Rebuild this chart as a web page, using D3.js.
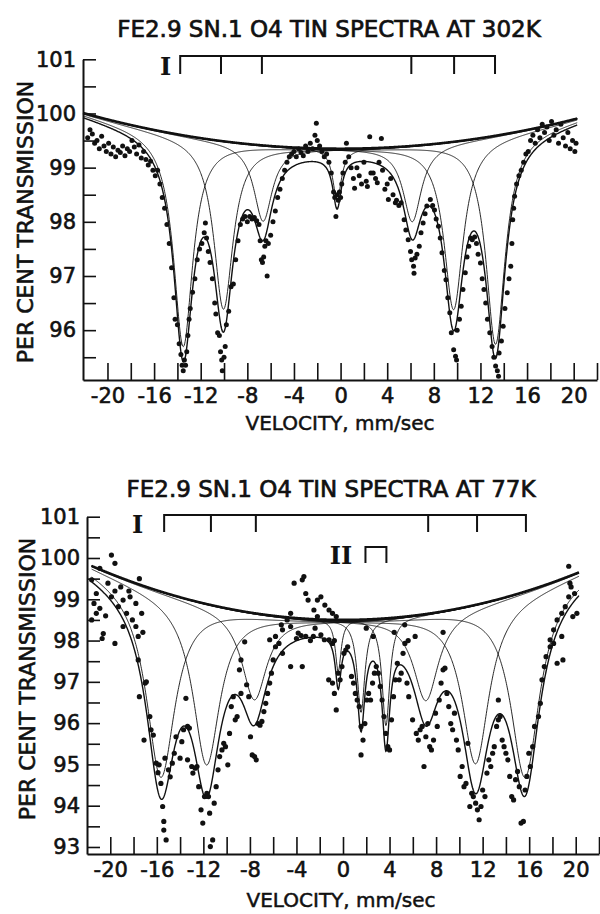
<!DOCTYPE html>
<html><head><meta charset="utf-8">
<script src="https://cdn.jsdelivr.net/npm/d3@7"></script>
<style>body{margin:0;background:#fff}svg{display:block}</style>
</head><body>
<svg id="c" width="600" height="914"></svg>
<script>
// ---------- DATA ----------
const topTitle = "FE2.9 SN.1 O4 TIN SPECTRA AT 302K";
const bottomTitle = "FE2.9 SN.1 O4 TIN SPECTRA AT 77K";
const xAxisTitle = "VELOCITY, mm/sec";
const yAxisTitle = "PER CENT TRANSMISSION";
const xTickValues = [-20,-16,-12,-8,-4,0,4,8,12,16,20];
const xTickLabels = ["-20","-16","-12","-8","-4","0","4","8","12","16","20"];
const topYTickValues = [101,100,99,98,97,96];
const topYTickLabels = ["101","100","99","98","97","96"];
const bottomYTickValues = [101,100,99,98,97,96,95,94,93];
const bottomYTickLabels = ["101","100","99","98","97","96","95","94","93"];

// site marker (stick diagram) positions, mm/sec
const topSiteI = [-13.76,-10.26,-6.75,6.07,9.74,13.25];
const bottomSiteI = [-15.37,-11.35,-7.49,7.32,11.52,15.72];
const bottomSiteII = [1.93,3.73];
const siteLabels = ["I","II"];

// fitted curve components (302 K)
const topBaseline = [99.35, 0.00135];        // centre value, curvature
const topLinePos   = [-13.5,-10.05,-6.65,-0.3,6.15,9.7,13.3];
const topLineDepth = [3.9,3.1,1.4,0.95,1.4,3.1,3.85];
const topLineWidth = [1.0,1.0,0.95,0.45,0.95,1.0,1.0];
const topFitRange = [-22.1,20.3];
// fitted curve components (77 K)
const bottomBaseline = [98.5, 0.0028];
const bottomLinePos   = [-15.66,-11.73,-7.62,-0.41,1.55,3.69,7.13,11.4,15.65];
const bottomLineDepth = [4.5,3.9,2.1,1.25,2.25,2.6,2.1,3.85,4.5];
const bottomLineWidth = [1.5,1.4,1.3,0.3,0.4,0.4,1.3,1.4,1.5];
const bottomFitRange = [-21.6,20.3];

// measured points [velocity, per cent transmission]
const topPoints = [[-21.7,99.55],[-21.5,99.7],[-21.3,99.62],[-21.1,99.45],[-20.9,99.5],[-20.7,99.35],[-20.5,99.58],[-20.3,99.4],[-20.1,99.3],[-19.9,99.45],[-19.7,99.25],[-19.5,99.38],[-19.3,99.2],[-19.1,99.32],[-18.9,99.28],[-18.7,99.4],[-18.5,99.22],[-18.3,99.35],[-18.1,99.3],[-17.9,99.5],[-17.7,99.38],[-17.5,99.25],[-17.3,99.42],[-17.1,99.18],[-16.9,99.3],[-16.7,99.15],[-16.5,99.05],[-16.3,99.12],[-16.1,98.95],[-15.9,98.85],[-15.7,98.95],[-15.5,98.7],[-15.3,98.45],[-15.1,98.25],[-14.9,97.95],[-14.7,97.6],[-14.5,97.15],[-14.3,96.6],[-14.2,96.2],[-14.0,96.1],[-13.85,95.75],[-13.7,95.55],[-13.6,95.35],[-13.5,95.25],[-13.4,95.45],[-13.3,95.35],[-13.2,95.6],[-13.1,95.9],[-13.0,96.2],[-12.9,96.4],[-12.7,96.7],[-12.5,96.95],[-12.3,97.3],[-12.1,97.5],[-11.9,97.6],[-11.7,97.8],[-11.6,97.98],[-11.5,97.7],[-11.35,97.45],[-11.2,97.25],[-11.0,96.95],[-10.8,96.5],[-10.7,96.3],[-10.55,95.95],[-10.4,95.9],[-10.3,95.6],[-10.2,95.45],[-10.15,95.25],[-10.0,95.5],[-9.9,95.7],[-9.8,96.1],[-9.6,96.35],[-9.4,96.8],[-9.2,96.85],[-9.0,97.3],[-8.8,97.65],[-8.6,97.95],[-8.4,98.05],[-8.2,98.1],[-8.0,98.0],[-7.8,98.1],[-7.6,98.05],[-7.4,98.08],[-7.2,98.02],[-7.0,97.95],[-6.9,97.65],[-6.8,97.3],[-6.7,97.25],[-6.6,97.35],[-6.5,97.55],[-6.4,97.65],[-6.3,97.0],[-6.2,97.6],[-6.0,97.75],[-5.8,98.0],[-5.6,98.2],[-5.4,98.45],[-5.2,98.6],[-5.0,98.8],[-4.8,98.95],[-4.6,99.1],[-4.4,99.2],[-4.2,99.25],[-4.0,99.3],[-3.8,99.2],[-3.6,99.35],[-3.4,99.28],[-3.2,99.22],[-3.0,99.4],[-2.8,99.3],[-2.6,99.45],[-2.4,99.35],[-2.2,99.6],[-2.08,99.82],[-2.0,99.5],[-1.8,99.4],[-1.6,99.3],[-1.4,99.2],[-1.2,99.25],[-1.0,99.1],[-0.8,98.9],[-0.6,98.55],[-0.5,98.45],[-0.4,98.1],[-0.3,98.5],[-0.2,98.4],[-0.1,98.55],[0.0,98.45],[0.1,98.7],[0.2,98.9],[0.4,99.1],[0.5,99.45],[0.7,99.2],[0.9,99.0],[1.1,98.8],[1.2,98.62],[1.4,99.0],[1.6,98.85],[1.8,98.7],[2.0,99.1],[2.2,98.75],[2.3,98.65],[2.5,99.57],[2.6,98.9],[2.8,98.9],[3.0,98.8],[3.15,98.72],[3.3,99.1],[3.5,99.54],[3.6,98.95],[3.8,98.6],[4.0,98.7],[4.1,98.41],[4.3,98.8],[4.5,98.5],[4.7,98.35],[4.8,98.4],[5.0,98.3],[5.2,98.35],[5.45,98.04],[5.6,97.85],[5.8,97.67],[6.0,97.45],[6.1,97.3],[6.26,97.18],[6.3,97.05],[6.4,97.33],[6.55,97.4],[6.75,97.55],[6.9,97.8],[7.08,97.98],[7.25,98.15],[7.4,98.29],[7.7,98.41],[7.9,98.3],[8.06,98.22],[8.2,98.05],[8.4,97.92],[8.55,97.7],[8.7,97.43],[8.9,97.1],[9.04,96.93],[9.2,96.6],[9.37,96.32],[9.5,95.95],[9.7,95.64],[9.86,95.52],[9.95,95.45],[10.0,96.0],[10.2,96.2],[10.35,96.44],[10.5,96.75],[10.7,97.06],[10.85,97.35],[11.0,97.55],[11.15,97.7],[11.3,97.67],[11.5,97.72],[11.66,97.6],[11.8,97.4],[12.0,97.24],[12.15,96.95],[12.3,96.75],[12.45,96.5],[12.6,96.2],[12.8,95.95],[13.0,95.7],[13.15,95.5],[13.3,95.34],[13.45,95.25],[13.55,95.15],[13.6,95.58],[13.8,95.8],[13.95,96.07],[14.1,96.4],[14.3,96.69],[14.45,96.95],[14.6,97.18],[14.7,97.6],[14.77,98.04],[14.85,98.25],[14.93,98.47],[15.1,98.7],[15.3,98.85],[15.5,98.95],[15.7,99.1],[15.9,99.25],[16.1,99.3],[16.3,99.5],[16.5,99.6],[16.7,99.45],[16.9,99.7],[17.1,99.55],[17.3,99.8],[17.5,99.65],[17.7,99.75],[17.9,99.5],[18.1,99.85],[18.3,99.6],[18.5,99.7],[18.7,99.45],[18.9,99.8],[19.1,99.55],[19.3,99.4],[19.5,99.65],[19.7,99.35],[19.9,99.5],[20.1,99.3],[20.2,99.45]];

const bottomPoints = [[-21.6,99.47],[-21.2,99.14],[-21.2,98.66],[-20.9,99.75],[-20.9,98.78],[-21.6,98.5],[-20.6,98.17],[-20.7,98.05],[-20.2,99.39],[-19.9,100.07],[-19.9,99.06],[-19.6,99.87],[-19.6,99.2],[-19.6,97.93],[-19.3,98.82],[-18.9,98.98],[-18.9,98.34],[-18.6,98.66],[-18.4,99.2],[-18.3,99.06],[-17.8,98.34],[-17.8,98.9],[-17.6,98.1],[-17.5,99.5],[-17.3,98.66],[-21.4,98.9],[-20.4,98.6],[-19.1,99.3],[-18.1,98.5],[-17.2,98.2],
[-17.6,97.53],[-17.5,96.64],[-17.0,96.97],[-16.9,97.0],[-17.1,95.59],[-16.6,96.16],[-16.5,95.84],[-16.3,95.71],[-16.05,95.03],[-15.8,94.99],[-15.9,94.8],[-15.65,94.54],[-15.5,93.98],[-15.4,93.62],[-15.4,93.41],[-15.2,93.17],[-15.3,95.15],[-15.0,94.87],[-14.85,94.7],[-14.67,95.03],[-14.5,95.27],[-14.35,95.67],[-14.0,95.15],[-13.85,95.55],[-13.7,95.84],[-13.5,96.6],[-13.36,95.92],[-13.2,95.88],[-13.36,95.11],[-13.0,94.95],[-12.9,94.79],[-12.7,94.91],[-12.55,94.95],[-12.4,94.46],[-12.2,93.9],[-12.05,93.58],[-11.9,94.22],[-11.7,94.3],[-11.56,94.22],[-11.46,93.82],[-11.4,93.01],[-11.2,93.17],[-11.07,94.06],[-10.9,94.46],[-10.74,94.87],[-10.6,95.19],[-10.4,95.35],[-10.25,95.51],[-10.1,95.43],[-9.9,94.99],[-9.75,95.75],[-9.6,96.4],[-9.43,96.64],[-9.26,96.08],[-9.1,96.16],[-8.9,97.29],[-8.77,97.53],[-8.77,96.72],[-8.45,97.97],[-8.28,96.93],[-8.1,96.64],[-7.95,95.67],[-7.8,95.23],[-7.6,95.19],[-7.46,95.11],[-7.3,95.99],[-7.13,95.95],[-6.97,96.04],[-6.8,96.28],[-6.64,96.48],[-6.48,96.72],[-6.3,96.97],[-6.15,97.21],[-6.0,97.53],[-5.8,97.85],[-5.5,97.93],[-5.2,97.69],[-4.5,97.37],[-3.5,97.37],
[-6.3,98.02],[-5.8,98.1],[-5.2,98.26],[-4.5,98.34],[-4.2,99.39],[-3.5,99.47],[-3.36,99.55],[-3.2,99.14],[-3.0,98.98],[-2.55,98.1],[-2.2,98.98],[-1.9,99.06],[-2.2,98.58],[-2.5,98.74],[-1.56,98.86],[-1.2,98.74],[-0.9,98.66],[-0.58,98.58],[-4.5,98.66],[-4.8,98.5],[-5.3,98.38],[-3.85,98.18],[-3.2,98.1],[-1.9,98.14],[-1.2,98.02],[-0.9,97.93],[-4.0,98.05],[-2.8,98.0],[-1.6,98.02],[-3.6,98.12],[-2.4,98.3],
[-0.74,98.0],[-1.23,97.05],[-0.9,96.97],[-0.74,96.72],[-0.58,96.32],[-0.41,97.21],[-0.25,97.05],[-0.09,97.37],[0.08,97.69],[0.24,97.77],[0.4,97.85],[0.73,97.13],[0.9,96.97],[1.06,96.72],[1.22,96.56],[1.39,96.4],[1.55,95.92],[1.72,95.59],[1.55,95.23],[1.88,95.99],[2.05,96.56],[2.2,96.72],[2.37,96.56],[2.54,96.97],[2.7,97.21],[2.86,97.37],[3.03,97.21],[3.2,96.89],[3.36,96.56],[3.52,96.16],[3.68,95.75],[3.85,95.43],[4.0,95.35],[4.17,96.08],[4.34,96.64],[4.5,97.05],[4.67,97.45],[4.83,97.05],[5.0,97.21],[5.16,97.69],[5.32,97.93],[5.5,96.97],[5.65,96.64],[5.98,96.08],[6.3,95.75],[6.47,95.59],[6.63,95.84],[6.8,95.92],[6.96,94.95],[7.12,95.67],[7.29,95.99],[7.45,95.43],[7.6,95.35],[7.78,95.59],[7.95,96.24],[8.1,95.92],[8.27,96.56],[8.43,96.97],[8.6,97.29],[8.76,97.33],[8.93,96.72],[9.09,96.4],[9.26,95.99],[9.42,95.84],[9.58,96.24],[9.75,95.59],[9.9,95.35],[10.07,94.71],[10.24,94.95],[10.4,94.46],[10.57,94.54],[10.73,95.51],[10.9,93.98],[11.06,94.3],[11.2,94.22],[11.4,94.06],[11.55,93.9],[11.7,93.66],[11.86,93.98],[12.0,94.38],[12.2,94.22],[12.37,94.79],[12.53,95.11],[12.7,94.95],[12.86,95.27],[13.0,95.43],[13.2,95.92],[13.35,96.08],[13.35,96.56],[13.5,96.16],[13.68,95.59],[13.84,95.43],[14.0,95.27],[14.17,95.11],[14.33,94.71],[14.5,94.22],[14.66,94.14],[14.83,94.63],[15.0,94.83],[15.15,94.46],[15.3,93.58],[15.5,93.62],[15.65,94.38],[15.8,94.71],[15.97,95.27],[16.1,94.95],[16.3,95.43],[16.46,95.92],[16.8,96.16],[16.96,96.48],[17.1,97.05],[17.3,97.37],[17.45,97.61],[17.8,97.85],[18.1,97.93],[18.4,97.45],[18.9,97.53],
[2.0,98.3],[2.6,98.1],[4.4,98.2],[5.3,98.38],[5.6,98.0],[8.6,98.2],[6.2,98.1],
[17.8,98.02],[18.1,98.26],[18.4,98.5],[18.8,98.66],[19.1,98.82],[19.4,99.06],[19.6,99.3],[19.9,99.14],[20.1,98.66],[19.75,98.58],[18.8,98.1],[19.4,99.8],[19.5,99.39]];

// ---------- DRAWING ----------
const FONT = "DejaVu Sans, Liberation Sans, Arial, sans-serif";
const svg = d3.select("#c");

function boldish(sel, w) {
  return sel.attr("fill", "#111").attr("stroke", "#111").attr("stroke-width", w).attr("paint-order", "stroke");
}

function drawPanel(d, L) {
  const x = d3.scaleLinear().domain(d.xDomain).range(L.xRange);
  const y = d3.scaleLinear().domain(d.yDomain).range(L.yRange);
  const g = svg.append("g");

  // title
  boldish(g.append("text").attr("x", L.titleX).attr("y", L.titleY)
    .attr("text-anchor", "middle").attr("font-family", FONT).attr("font-size", 23)
    .text(d.title), 0.7);

  // axes
  const yMinor = d3.range(d.yDomain[0] <= 93 ? 93 : 95.5, 101.001, 0.5);
  const yAx = d3.axisLeft(y).tickValues(yMinor).tickSizeInner(-13).tickSizeOuter(0).tickPadding(7)
    .tickFormat(v => { const i = d.yTickValues.indexOf(v); return i >= 0 ? d.yTickLabels[i] : ""; });
  const gy = g.append("g").attr("transform", `translate(${L.xRange[0]},0)`).call(yAx);
  const xMinor = d3.range(-20, 22.001, 2);
  const xAx = d3.axisBottom(x).tickValues(xMinor).tickSizeInner(-17).tickSizeOuter(0).tickPadding(8)
    .tickFormat(v => { const i = xTickValues.indexOf(v); return i >= 0 ? xTickLabels[i] : ""; });
  const gx = g.append("g").attr("transform", `translate(0,${L.yRange[0]})`).call(xAx);
  [gx, gy].forEach(a => {
    a.attr("font-family", FONT).attr("font-size", 21);
    a.select(".domain").attr("stroke", "#111").attr("stroke-width", 2);
    a.selectAll(".tick line").attr("stroke", "#111").attr("stroke-width", 1.6);
    boldish(a.selectAll(".tick text"), 0.6);
  });

  // axis titles
  boldish(g.append("text").attr("x", L.xTitleX).attr("y", L.xTitleY).attr("text-anchor", "middle")
    .attr("font-family", FONT).attr("font-size", 20).text(xAxisTitle), 0.5);
  boldish(g.append("text").attr("transform", `translate(${L.yTitleX},${L.yTitleY}) rotate(-90)`)
    .attr("text-anchor", "middle").attr("font-family", FONT).attr("font-size", 22).text(yAxisTitle), 0.6);

  // site markers
  d.sites.forEach((s, k) => {
    const pos = s.pos;
    const yt = L.siteY[k][0], yb = L.siteY[k][1];
    const p = d3.path();
    p.moveTo(x(pos[0]), yb); p.lineTo(x(pos[0]), yt); p.lineTo(x(pos[pos.length-1]), yt); p.lineTo(x(pos[pos.length-1]), yb);
    for (let i = 1; i < pos.length - 1; i++) { p.moveTo(x(pos[i]), yt); p.lineTo(x(pos[i]), yb); }
    g.append("path").attr("d", p.toString()).attr("fill", "none").attr("stroke", "#111").attr("stroke-width", 2);
    g.append("text").attr("x", L.siteLabelX[k]).attr("y", yb + 1).attr("text-anchor", "middle")
      .attr("font-family", "DejaVu Serif, Liberation Serif, serif").attr("font-weight", "bold").attr("font-size", 24)
      .attr("fill", "#111").text(s.label);
  });

  // fitted curves
  const base = v => d.baseline[0] + d.baseline[1] * v * v;
  const lor = (i, v) => d.depth[i] / (1 + Math.pow((v - d.pos[i]) / d.width[i], 2));
  const vs = d3.range(d.fitRange[0], d.fitRange[1] + 1e-9, 0.04);
  const line = d3.line().x(p => x(p[0])).y(p => y(p[1]));
  const cg = g.append("g").attr("fill", "none").attr("stroke", "#111");
  d.pos.forEach((_, i) => {
    cg.append("path").attr("stroke-width", 0.9).attr("d", line(vs.map(v => [v, base(v) - lor(i, v)])));
  });
  cg.append("path").attr("stroke-width", 1.4)
    .attr("d", line(vs.map(v => [v, base(v) - d3.sum(d.pos, (_, i) => lor(i, v))])));
  cg.append("path").attr("stroke-width", 2.6).attr("d", line(vs.map(v => [v, base(v)])));

  // points
  g.append("g").selectAll("circle").data(d.points).join("circle")
    .attr("cx", p => x(p[0])).attr("cy", p => y(p[1])).attr("r", L.r).attr("fill", "#111");
}

drawPanel({
  title: topTitle, xDomain: [-22.1, 22], yDomain: [95.08, 101],
  yTickValues: topYTickValues, yTickLabels: topYTickLabels,
  sites: [{pos: topSiteI, label: siteLabels[0]}],
  baseline: topBaseline, pos: topLinePos, depth: topLineDepth, width: topLineWidth,
  fitRange: topFitRange, points: topPoints
}, {
  xRange: [83, 597], yRange: [380, 59.3], titleX: 329, titleY: 37,
  xTitleX: 340, xTitleY: 430, yTitleX: 33, yTitleY: 222,
  siteY: [[56, 74]], siteLabelX: [165.5], r: 2.5
});

drawPanel({
  title: bottomTitle, xDomain: [-22, 22], yDomain: [92.83, 101],
  yTickValues: bottomYTickValues, yTickLabels: bottomYTickLabels,
  sites: [{pos: bottomSiteI, label: siteLabels[0]}, {pos: bottomSiteII, label: siteLabels[1]}],
  baseline: bottomBaseline, pos: bottomLinePos, depth: bottomLineDepth, width: bottomLineWidth,
  fitRange: bottomFitRange, points: bottomPoints
}, {
  xRange: [87, 599], yRange: [854, 516.7], titleX: 331, titleY: 497,
  xTitleX: 341, xTitleY: 907, yTitleX: 35, yTitleY: 679,
  siteY: [[515, 532], [547, 563]], siteLabelX: [137.5, 341], r: 2.6
});
</script>
</body></html>
